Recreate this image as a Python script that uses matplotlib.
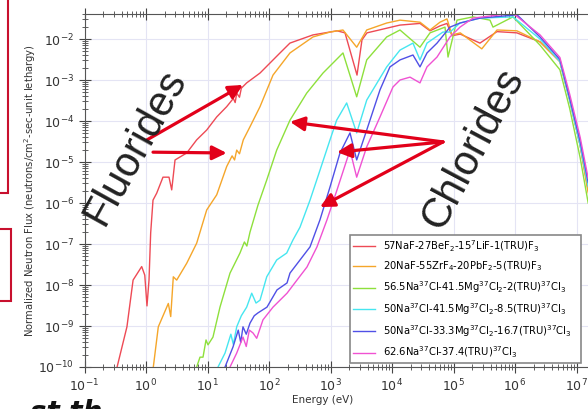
"""
Normalized neutron flux spectra for fluoride and chloride fuel salts.
Values read off the reference picture (log10 of energy in eV, log10 of flux).
"""
import numpy as np
import matplotlib.pyplot as plt
from matplotlib.patches import Rectangle

labels = [
    r"57NaF-27BeF$_2$-15$^7$LiF-1(TRU)F$_3$",
    r"20NaF-55ZrF$_4$-20PbF$_2$-5(TRU)F$_3$",
    r"56.5Na$^{37}$Cl-41.5Mg$^{37}$Cl$_2$-2(TRU)$^{37}$Cl$_3$",
    r"50Na$^{37}$Cl-41.5Mg$^{37}$Cl$_2$-8.5(TRU)$^{37}$Cl$_3$",
    r"50Na$^{37}$Cl-33.3Mg$^{37}$Cl$_2$-16.7(TRU)$^{37}$Cl$_3$",
    r"62.6Na$^{37}$Cl-37.4(TRU)$^{37}$Cl$_3$",
]
colors = ["#ee4a55", "#f5a62a", "#8ee03c", "#46e6f0", "#5050e6", "#f052d2"]

red_loge = [-0.47, -0.31, -0.21, -0.07, -0.02, 0.016, 0.049, 0.076, 0.114, 0.174,
            0.276, 0.374, 0.418, 0.472, 0.662, 0.824, 0.987, 1.15, 1.312, 1.42,
            1.45, 1.475, 1.52, 1.55, 1.637, 1.854, 2.179, 2.34, 2.715, 3.106,
            3.236, 3.431, 3.512, 3.593, 4.13, 4.455, 4.618, 4.78, 4.894, 4.976,
            5.11, 5.43, 5.707, 6.03, 6.407, 6.73, 6.89, 7.06, 7.19]
red_logf = [-10.0, -9.02, -7.88, -7.55, -7.76, -8.51, -7.88, -6.73, -5.93, -5.76,
            -5.37, -5.37, -5.68, -4.95, -4.78, -4.46, -4.22, -3.9, -3.65, -3.45,
            -3.55, -3.32, -3.42, -3.2, -3.07, -2.83, -2.34, -2.1, -1.9, -1.8,
            -1.85, -2.88, -2.02, -1.85, -1.66, -1.62, -1.8, -1.68, -1.62, -1.92,
            -1.88, -2.1, -1.82, -1.85, -2.07, -2.55, -3.49, -4.6, -5.7]

orange_loge = [0.119, 0.2, 0.363, 0.402, 0.444, 0.499, 0.662, 0.824, 0.987, 1.15,
               1.312, 1.4, 1.44, 1.475, 1.52, 1.582, 1.691, 1.854, 2.065, 2.341,
               2.715, 2.992, 3.203, 3.426, 3.589, 3.914, 4.13, 4.455, 4.618, 4.78,
               4.894, 4.976, 5.11, 5.46, 5.707, 6.03, 6.407, 6.73, 6.89, 7.06, 7.19]
orange_logf = [-10.0, -9.02, -8.45, -8.77, -7.8, -7.88, -7.47, -6.98, -6.17, -5.8,
               -5.11, -4.85, -4.95, -4.71, -4.8, -4.46, -4.14, -3.65, -2.88, -2.34,
               -1.95, -1.83, -1.78, -2.2, -1.78, -1.61, -1.54, -1.59, -1.78, -1.59,
               -1.51, -1.9, -1.85, -2.24, -1.78, -1.8, -2.07, -2.55, -3.49, -4.6, -5.75]

green_loge = [0.824, 0.878, 0.927, 0.976, 1.008, 1.089, 1.203, 1.366, 1.528, 1.6,
              1.64, 1.691, 1.821, 1.963, 2.125, 2.341, 2.613, 2.878, 3.203, 3.426,
              3.589, 3.914, 4.13, 4.455, 4.618, 4.862, 4.911, 5.057, 5.317, 5.593,
              5.642, 5.967, 6.407, 6.73, 6.89, 7.06, 7.19]
green_logf = [-10.0, -9.76, -9.76, -9.34, -9.46, -9.27, -8.54, -7.71, -7.22, -6.95,
              -7.05, -6.71, -6.05, -5.44, -4.71, -3.98, -3.32, -2.83, -2.34, -3.41,
              -2.51, -1.95, -1.78, -2.2, -1.85, -1.71, -2.44, -1.54, -1.46, -1.54,
              -1.71, -1.46, -2.15, -2.75, -3.7, -4.9, -6.0]

cyan_loge = [1.171, 1.285, 1.38, 1.42, 1.475, 1.55, 1.637, 1.719, 1.789, 1.854,
             1.963, 2.125, 2.288, 2.39, 2.504, 2.667, 2.829, 2.992, 3.1, 3.263,
             3.426, 3.589, 3.914, 4.13, 4.341, 4.455, 4.569, 4.829, 4.943, 5.106,
             5.431, 5.967, 6.407, 6.73, 6.89, 7.06, 7.19]
cyan_logf = [-10.0, -9.66, -9.2, -9.45, -9.02, -8.75, -8.54, -8.2, -8.44, -8.37,
             -7.8, -7.39, -7.22, -6.9, -6.59, -5.93, -5.2, -4.46, -3.98, -3.56,
             -4.29, -3.49, -2.68, -2.27, -2.1, -2.51, -2.1, -1.83, -1.83, -1.61,
             -1.49, -1.46, -2.0, -2.55, -3.5, -4.6, -5.6]

blue_loge = [1.285, 1.415, 1.5, 1.54, 1.577, 1.63, 1.691, 1.76, 1.821, 1.967,
             2.13, 2.293, 2.341, 2.504, 2.667, 2.829, 2.992, 3.154, 3.317, 3.426,
             3.589, 3.805, 3.967, 4.13, 4.341, 4.455, 4.569, 4.732, 4.943, 5.106,
             5.431, 6.033, 6.407, 6.73, 6.89, 7.06, 7.19]
blue_logf = [-10.0, -9.51, -9.1, -9.4, -9.02, -9.2, -8.93, -8.75, -8.68, -8.54,
             -8.12, -7.95, -7.71, -7.39, -7.07, -6.41, -5.61, -4.78, -4.29, -4.95,
             -4.22, -3.24, -2.68, -2.51, -2.39, -2.68, -2.34, -2.1, -1.71, -1.61,
             -1.49, -1.41, -1.95, -2.5, -3.45, -4.5, -5.5]

magenta_loge = [1.366, 1.475, 1.577, 1.63, 1.68, 1.74, 1.8, 1.902, 2.065, 2.293,
                2.455, 2.618, 2.78, 2.943, 3.106, 3.317, 3.426, 3.589, 3.805, 4.016,
                4.13, 4.293, 4.455, 4.569, 4.732, 4.943, 5.106, 5.317, 5.967, 6.407,
                6.73, 6.89, 7.06, 7.19]
magenta_logf = [-10.0, -9.66, -9.27, -9.5, -9.1, -9.17, -9.3, -8.85, -8.54, -8.2,
                -7.88, -7.56, -7.07, -6.41, -5.68, -4.71, -5.37, -4.63, -3.9, -3.17,
                -3.0, -2.93, -3.07, -2.68, -2.44, -1.95, -1.71, -1.49, -1.37, -1.9,
                -2.45, -3.35, -4.4, -5.4]

series = [(red_loge, red_logf), (orange_loge, orange_logf),
          (green_loge, green_logf), (cyan_loge, cyan_logf),
          (blue_loge, blue_logf), (magenta_loge, magenta_logf)]

# arrows: (tail log E, tail log flux, tip log E, tip log flux)
fluoride_arrows = [(0.016, -4.46, 1.577, -3.12), (0.114, -4.76, 1.312, -4.78)]
chloride_arrows = [(4.829, -4.51, 2.341, -4.02), (4.829, -4.51, 3.106, -4.76),
                   (4.829, -4.51, 2.829, -6.10)]

fig = plt.figure(figsize=(5.88, 4.09), dpi=100)
xspan = 8.3
ax = fig.add_axes([84.5 / 588, 42 / 409, xspan * 61.5 / 588, 353 / 409])

for (le, lf), col, lab in zip(series, colors, labels):
    ax.plot(10.0 ** np.array(le), 10.0 ** np.array(lf), color=col, lw=1.0, label=lab)

ax.set_xscale("log")
ax.set_yscale("log")
ax.set_xlim(0.1, 10 ** (xspan - 1))
ax.set_ylim(1e-10, 10 ** -1.39)
ax.set_xticks([10.0 ** k for k in range(-1, 8)])
ax.set_yticks([10.0 ** k for k in range(-10, -1)])
ax.grid(True, which="major", color="#e4e4f4", lw=0.8)
ax.tick_params(which="both", direction="inout", top=True, right=True,
               colors="#444444", labelcolor="#333333", labelsize=9)
ax.tick_params(which="major", length=8)
ax.tick_params(which="minor", length=4)
for sp in ax.spines.values():
    sp.set_color("#555555")

ax.set_xlabel("Energy (eV)", fontsize=7.5, color="#333333")
ax.xaxis.set_label_coords((323 - 84.5) / (xspan * 61.5), -0.078)
ax.set_ylabel("Normalized Neutron Flux (neutrons/cm$^2$-sec-unit lethargy)",
              fontsize=7.2, color="#333333")
ax.yaxis.set_label_coords(-0.092, 0.5)

leg = ax.legend(loc="lower left", bbox_to_anchor=(350 / 588, 46 / 409, 231 / 588, 117 / 409),
                bbox_transform=fig.transFigure, mode="expand", fontsize=7.2,
                handlelength=2.2, borderaxespad=0, fancybox=False, framealpha=1,
                labelspacing=0.6, handletextpad=0.8, borderpad=0.3)
leg.get_frame().set_edgecolor("#888888")
leg.get_frame().set_linewidth(1.2)

for tx, ty, hx, hy in fluoride_arrows + chloride_arrows:
    ax.annotate("", xy=(10 ** hx, 10 ** hy), xytext=(10 ** tx, 10 ** ty),
                arrowprops=dict(arrowstyle="-|>,head_length=0.85,head_width=0.42",
                                color="#e2001a", lw=2.3, shrinkA=0, shrinkB=0))

ax.text(10 ** -0.17, 10 ** -4.63, "Fluorides", fontsize=30, rotation=61,
        ha="center", va="center", rotation_mode="anchor", color="#222222",
        family="Liberation Sans")
ax.text(10 ** 5.33, 10 ** -4.66, "Chlorides", fontsize=30, rotation=62,
        ha="center", va="center", rotation_mode="anchor", color="#222222",
        family="Liberation Sans")

# slide decorations around the cropped figure
fig.patches.append(Rectangle((-0.05, 1 - 193 / 409), 0.05 + 8 / 588, 0.6,
                             transform=fig.transFigure, fill=False,
                             edgecolor="#c8102e", lw=1.5))
fig.patches.append(Rectangle((-0.05, 1 - 301 / 409), 0.05 + 11 / 588, 72 / 409,
                             transform=fig.transFigure, fill=False,
                             edgecolor="#c8102e", lw=1.5))
fig.text(30 / 588, -12 / 409, "st th", fontsize=20, style="italic",
         weight="bold", va="baseline", color="#111111")

plt.savefig("out.png", dpi=100)
